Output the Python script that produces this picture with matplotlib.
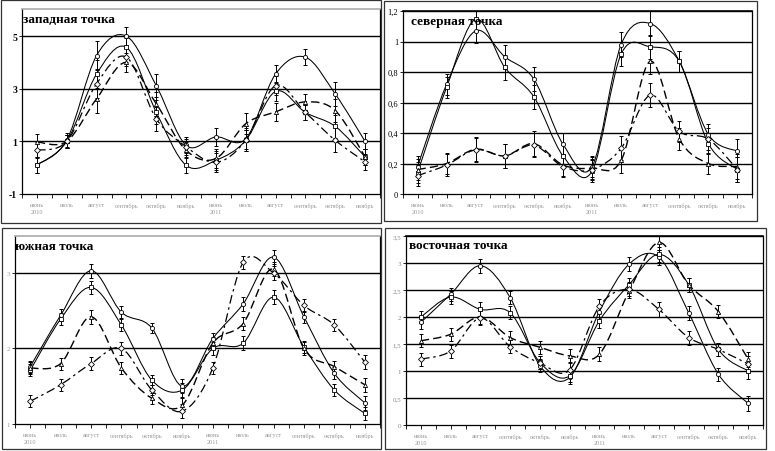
import numpy as np
import matplotlib
matplotlib.use("Agg")
import matplotlib.pyplot as plt
from matplotlib.path import Path
from matplotlib.patches import PathPatch, Rectangle

# ---------------- data ----------------
months = ["июнь\n2010", "июль", "август", "сентябрь", "октябрь", "ноябрь",
          "июнь\n2011", "июль", "август", "сентябрь", "октябрь", "ноябрь"]

# западная точка
west_1 = [0.10, 1.05, 4.26, 5.00, 3.12, 0.85, 1.17, 1.10, 3.56, 4.20, 2.80, 1.00]
west_2 = [0.10, 1.00, 3.56, 4.57, 2.11, 0.09, 0.28, 1.04, 2.90, 2.10, 1.57, 0.41]
west_3 = [0.98, 1.00, 2.62, 4.00, 2.43, 0.66, 0.35, 1.67, 2.12, 2.50, 2.17, 0.41]
west_4 = [0.66, 1.00, 3.19, 4.20, 1.86, 0.80, 0.20, 1.04, 3.12, 2.10, 1.04, 0.22]
west_err = [0.30, 0.25, 0.55, 0.35, 0.45, 0.30, 0.35, 0.40, 0.35, 0.30, 0.45, 0.30]

# северная точка
north_1 = [0.18, 0.72, 1.07, 0.90, 0.753, 0.327, 0.18, 0.98, 1.118, 0.87, 0.39, 0.28]
north_2 = [0.14, 0.70, 1.146, 0.83, 0.637, 0.25, 0.15, 0.917, 0.965, 0.87, 0.33, 0.16]
north_3 = [0.16, 0.20, 0.294, 0.25, 0.33, 0.19, 0.17, 0.22, 0.87, 0.36, 0.20, 0.18]
north_4 = [0.12, 0.19, 0.29, 0.25, 0.32, 0.18, 0.16, 0.30, 0.648, 0.41, 0.36, 0.16]
north_err = [0.07, 0.07, 0.08, 0.08, 0.08, 0.07, 0.07, 0.08, 0.08, 0.07, 0.07, 0.08]

# южная точка
south_1 = [1.76, 2.44, 3.03, 2.48, 2.27, 1.50, 2.13, 2.59, 3.21, 2.42, 1.67, 1.28]
south_2 = [1.71, 2.39, 2.81, 2.31, 1.58, 1.45, 2.00, 2.07, 2.68, 2.02, 1.45, 1.14]
south_3 = [1.74, 1.80, 2.42, 1.74, 1.34, 1.25, 2.07, 2.33, 3.05, 2.00, 1.76, 1.52]
south_4 = [1.30, 1.52, 1.80, 2.00, 1.45, 1.17, 1.74, 3.14, 3.00, 2.57, 2.31, 1.82]
south_err = [0.08, 0.08, 0.09, 0.08, 0.07, 0.09, 0.08, 0.09, 0.09, 0.08, 0.08, 0.09]

# восточная точка
east_1 = [1.90, 2.42, 2.95, 2.36, 1.10, 0.88, 2.10, 2.98, 3.11, 2.08, 0.94, 0.40]
east_2 = [2.00, 2.37, 2.14, 2.08, 1.16, 0.91, 1.93, 2.60, 3.16, 2.60, 1.40, 1.00]
east_3 = [1.56, 1.68, 2.00, 1.62, 1.44, 1.28, 1.31, 2.48, 3.38, 2.60, 2.10, 1.22]
east_4 = [1.22, 1.37, 1.98, 1.45, 1.15, 1.02, 2.20, 2.51, 2.14, 1.62, 1.40, 1.13]
east_err = [0.12, 0.12, 0.13, 0.12, 0.12, 0.12, 0.13, 0.13, 0.14, 0.13, 0.12, 0.14]

titles = ["западная точка", "северная точка", "южная точка", "восточная точка"]

west_ticks = [-1, 1, 3, 5]
west_ticklabels = ["-1", "1", "3", "5"]
north_ticks = [0, 0.2, 0.4, 0.6, 0.8, 1.0, 1.2]
north_ticklabels = ["0", "0,2", "0,4", "0,6", "0,8", "1", "1,2"]
south_ticks = [1, 2, 3]
south_ticklabels = ["1", "2", "3"]
east_ticks = [0, 0.5, 1, 1.5, 2, 2.5, 3, 3.5]
east_ticklabels = ["0", "0,5", "1", "1,5", "2", "2,5", "3", "3,5"]

# ---------------- figure ----------------
W, H = 775, 452
fig = plt.figure(figsize=(W / 100, H / 100), dpi=100)
fig.patch.set_facecolor("white")
SERIF = ["Liberation Serif", "DejaVu Serif"]


def ax_px(l, t, r, b):
    return fig.add_axes([l / W, 1 - b / H, (r - l) / W, (b - t) / H])


def smooth_path(x, y):
    pts = np.column_stack([x, y]).astype(float)
    n = len(pts)
    verts = [pts[0]]
    codes = [Path.MOVETO]
    for i in range(n - 1):
        p0 = pts[i - 1] if i > 0 else pts[i]
        p1 = pts[i]
        p2 = pts[i + 1]
        p3 = pts[i + 2] if i + 2 < n else pts[i + 1]
        verts += [p1 + (p2 - p0) / 6, p2 - (p3 - p1) / 6, p2]
        codes += [Path.CURVE4] * 3
    return Path(verts, codes)


styles = [
    dict(ls="-", marker="o", lw=0.75),
    dict(ls="-", marker="s", lw=0.75),
    dict(ls=(0, (6, 3)), marker="^", lw=1.0),
    dict(ls=(0, (7, 3, 2, 3)), marker="D", lw=0.9),
]

panels = [
    dict(series=[west_1, west_2, west_3, west_4], err=west_err,
         box=(22, 10, 380, 195), xlim=(-0.34, 11.5), ylim=(-1, 6.03),
         ticks=west_ticks, labels=west_ticklabels, grid=[1, 3, 5],
         frame=(1, 1, 381, 224), title=titles[0], tpos=(23, 20),
         ycolor="black", ysize=7, yweight="bold", topgray=True),
    dict(series=[north_1, north_2, north_3, north_4], err=north_err,
         box=(403, 12, 752, 195), xlim=(-0.47, 11.25), ylim=(0, 1.2),
         ticks=north_ticks, labels=north_ticklabels,
         grid=[0.2, 0.4, 0.6, 0.8, 1.0, 1.2],
         frame=(384, 2, 757, 222), title=titles[1], tpos=(411, 22),
         ycolor="black", ysize=6, yweight="normal", topgray=False),
    dict(series=[south_1, south_2, south_3, south_4], err=south_err,
         box=(15, 237, 380, 425), xlim=(-0.49, 11.44), ylim=(1, 3.49),
         ticks=south_ticks, labels=south_ticklabels, grid=[2, 3],
         frame=(2, 229, 381, 450), title=titles[2], tpos=(15, 247),
         ycolor="#999999", ysize=5, yweight="normal", topgray=True),
    dict(series=[east_1, east_2, east_3, east_4], err=east_err,
         box=(406, 237, 763, 426), xlim=(-0.45, 11.49), ylim=(0, 3.5),
         ticks=east_ticks, labels=east_ticklabels,
         grid=[0.5, 1, 1.5, 2, 2.5, 3, 3.5],
         frame=(385, 229, 766, 450), title=titles[3], tpos=(409, 246),
         ycolor="#888888", ysize=5, yweight="normal", topgray=False),
]

x = np.arange(len(months))

for p in panels:
    fl, ft, fr, fb = p["frame"]
    fig.add_artist(Rectangle((fl / W, 1 - fb / H), (fr - fl) / W, (fb - ft) / H,
                             transform=fig.transFigure, fill=False,
                             ec="#333333", lw=0.9))
    ax = ax_px(*p["box"])
    ax.set_xlim(*p["xlim"])
    ax.set_ylim(*p["ylim"])
    for g in p["grid"]:
        ax.axhline(g, color="black", lw=1.0, zorder=1)
    for s, st in zip(p["series"], styles):
        path = smooth_path(x, s)
        ax.add_patch(PathPatch(path, fill=False, ec="black", lw=st["lw"],
                               ls=st["ls"], zorder=3))
        ax.errorbar(x, s, yerr=p["err"], fmt="none", ecolor="black",
                    elinewidth=0.7, capsize=1.6, capthick=0.7, zorder=4)
        ax.plot(x, s, ls="none", marker=st["marker"], ms=3.0, mfc="white",
                mec="black", mew=0.6, zorder=5)
    ax.set_xticks(x)
    ax.set_xticklabels(months, fontsize=4.5, color="#999999",
                       family=SERIF, linespacing=1.5)
    ax.set_xticks(np.arange(-0.5, 11.6, 1.0), minor=True)
    ax.tick_params(axis="x", which="both", direction="out", length=3,
                   width=0.6, pad=3)
    ax.set_yticks(p["ticks"])
    ax.set_yticklabels(p["labels"], fontsize=p["ysize"], color=p["ycolor"],
                       family=SERIF, fontweight=p["yweight"])
    ax.tick_params(axis="y", direction="out", length=2, width=0.6, pad=1.5)
    for side in ["left", "bottom", "right"]:
        ax.spines[side].set_color("black")
        ax.spines[side].set_linewidth(0.9)
    ax.spines["top"].set_color("#aaaaaa" if p["topgray"] else "black")
    ax.spines["top"].set_linewidth(1.2)
    ax.set_facecolor("white")
    tx, ty = p["tpos"]
    fig.text(tx / W, 1 - ty / H, p["title"], fontsize=9.5, fontweight="bold",
             family=SERIF, ha="left", va="center")

fig.savefig("out.png", dpi=100)
